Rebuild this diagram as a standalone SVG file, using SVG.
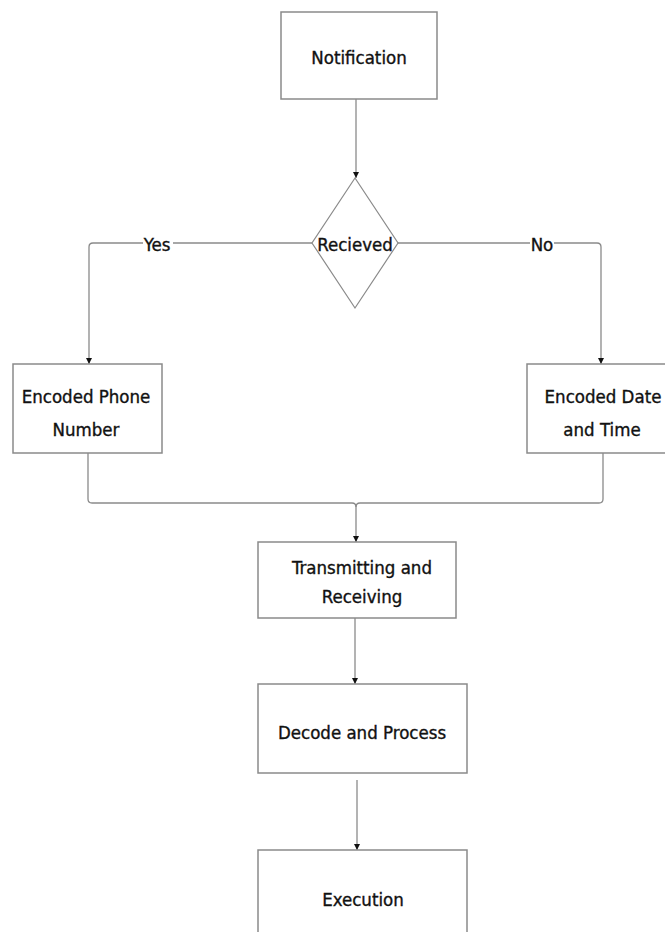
<svg xmlns="http://www.w3.org/2000/svg" width="665" height="932" viewBox="0 0 665 932">
<style>
.box{fill:#fff;stroke:#8a8a8a;stroke-width:1.5}
.t{font-family:"DejaVu Sans Condensed","DejaVu Sans",sans-serif;font-size:18.5px;fill:#111;stroke:#111;stroke-width:0.35;text-anchor:middle}
.c{fill:none;stroke:#8a8a8a;stroke-width:1.3}
</style>
<defs>
<marker id="ah" viewBox="0 0 10 10" refX="10" refY="5" markerWidth="6" markerHeight="6" markerUnits="userSpaceOnUse" orient="auto">
<path d="M0,0 L10,5 L0,10 z" fill="#111"/>
</marker>
</defs>
<rect width="665" height="932" fill="#fff"/>
<g id="connectors">
<path class="c" d="M356 99 V178" marker-end="url(#ah)"/>
<path class="c" d="M312 243 H93 Q89 243 89 247 V364" marker-end="url(#ah)"/>
<path class="c" d="M398 243 H597 Q601 243 601 247 V364" marker-end="url(#ah)"/>
<path class="c" d="M88 453 V499 Q88 503 92 503 H352 Q356 503 356 507 V542" marker-end="url(#ah)"/>
<path class="c" d="M603 453 V499 Q603 503 599 503 H360 Q356 503 356 507"/>
<path class="c" d="M355 618 V684" marker-end="url(#ah)"/>
<path class="c" d="M357 780 V850" marker-end="url(#ah)"/>
<rect x="143" y="234" width="30" height="20" fill="#fff"/>
<text class="t" x="157" y="251">Yes</text>
<rect x="530" y="234" width="24" height="20" fill="#fff"/>
<text class="t" x="542" y="251">No</text>
</g>
<g id="notification">
<rect class="box" x="281" y="12" width="156" height="87"/>
<text class="t" x="359" y="64">Notification</text>
</g>
<g id="recieved">
<polygon points="355,178 398,243 355,308 312,243" fill="#fff" stroke="#8a8a8a" stroke-width="1.2"/>
<text class="t" x="355" y="251">Recieved</text>
</g>
<g id="phone">
<rect class="box" x="13" y="364" width="149" height="89"/>
<text class="t" x="86" y="403">Encoded Phone</text>
<text class="t" x="86" y="436">Number</text>
</g>
<g id="datetime">
<rect class="box" x="527" y="364" width="150" height="89"/>
<text class="t" x="603" y="403">Encoded Date</text>
<text class="t" x="602" y="436">and Time</text>
</g>
<g id="transmit">
<rect class="box" x="258" y="542" width="198" height="76"/>
<text class="t" x="362" y="574">Transmitting and</text>
<text class="t" x="362" y="603">Receiving</text>
</g>
<g id="decode">
<rect class="box" x="258" y="684" width="209" height="89"/>
<text class="t" x="362" y="739">Decode and Process</text>
</g>
<g id="execution">
<rect class="box" x="258" y="850" width="209" height="100"/>
<text class="t" x="363" y="906">Execution</text>
</g>
</svg>
